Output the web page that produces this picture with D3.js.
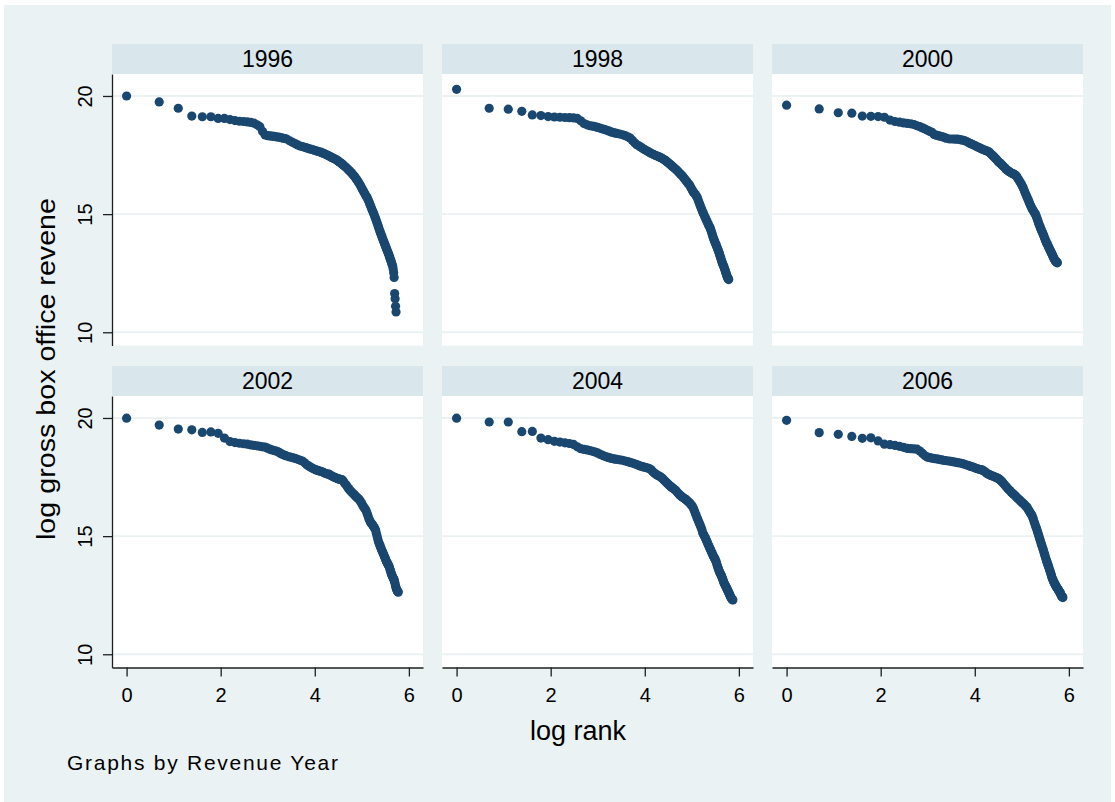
<!DOCTYPE html>
<html>
<head>
<meta charset="utf-8">
<script src="https://cdn.jsdelivr.net/npm/d3@7"></script>
<style>
  body { margin: 0; background: #ffffff; }
  svg { display: block; }
  text { font-family: "Liberation Sans", Arial, Helvetica, sans-serif; fill: #000; }
</style>
</head>
<body>
<svg id="chart" width="1115" height="802"></svg>
<script>
// Panel order (by revenue year)
const years = ["1996", "1998", "2000", "2002", "2004", "2006"];

// Film ranks at which revenue is plotted: 1..30, then every 2nd to 100, then every 3rd
const ranks = d3.range(1, 31).concat(d3.range(32, 101, 2), d3.range(103, 356, 3));

// log gross box office revenue, in the same order as `ranks`
const rev1996 = [20.0, 19.75, 19.48, 19.15, 19.12, 19.12, 19.05, 19.05, 19.0, 18.96, 18.93, 18.92, 18.9, 18.88, 18.85, 18.78, 18.7, 18.5, 18.35, 18.32, 18.31, 18.3, 18.29, 18.27, 18.26, 18.25, 18.23, 18.21, 18.2, 18.18,
  18.1, 18.04, 17.98, 17.93, 17.88, 17.86, 17.83, 17.8, 17.77, 17.75, 17.73, 17.7, 17.68, 17.66, 17.64, 17.62, 17.59, 17.57, 17.54, 17.51, 17.49, 17.46, 17.43, 17.4, 17.38, 17.35, 17.33, 17.31, 17.27, 17.24, 17.21, 17.18, 17.14, 17.11, 17.08,
  17.03, 16.98, 16.92, 16.87, 16.82, 16.76, 16.71, 16.65, 16.6, 16.53, 16.47, 16.4, 16.33, 16.26, 16.19, 16.11, 16.03, 15.96, 15.89, 15.82,
  15.76, 15.7, 15.62, 15.54, 15.45, 15.37, 15.28, 15.2, 15.12, 15.05, 14.97, 14.88, 14.8, 14.72, 14.63, 14.55, 14.47, 14.38, 14.3, 14.22,
  14.15, 14.08, 14.01, 13.94, 13.87, 13.81, 13.74, 13.68, 13.61, 13.55, 13.49, 13.43, 13.37, 13.31, 13.25, 13.18, 13.12, 13.05, 12.99, 12.92,
  12.86, 12.79, 12.68, 12.52, 12.32, 11.64, 11.42, 11.1, 10.86];

const rev1998 = [20.28, 19.48, 19.44, 19.35, 19.2, 19.17, 19.13, 19.11, 19.1, 19.09, 19.08, 19.07, 19.05, 18.95, 18.83, 18.78, 18.74, 18.72, 18.7, 18.67, 18.64, 18.61, 18.59, 18.56, 18.53, 18.5, 18.47, 18.45, 18.43, 18.42,
  18.39, 18.36, 18.32, 18.27, 18.22, 18.12, 18.02, 17.94, 17.89, 17.84, 17.79, 17.74, 17.7, 17.66, 17.62, 17.58, 17.55, 17.52, 17.49, 17.47, 17.45, 17.42, 17.4, 17.37, 17.34, 17.31, 17.28, 17.25, 17.21, 17.17, 17.13, 17.1, 17.06, 17.02, 16.99,
  16.94, 16.89, 16.84, 16.78, 16.72, 16.67, 16.62, 16.56, 16.5, 16.44, 16.38, 16.32, 16.27, 16.22, 16.13, 16.06, 15.99, 15.92, 15.88, 15.83,
  15.77, 15.72, 15.62, 15.52, 15.43, 15.34, 15.26, 15.17, 15.09, 15.03, 14.95, 14.88, 14.81, 14.75, 14.69, 14.62, 14.56, 14.5, 14.45, 14.39,
  14.31, 14.23, 14.14, 14.06, 13.98, 13.91, 13.85, 13.79, 13.73, 13.67, 13.61, 13.55, 13.49, 13.42, 13.36, 13.29, 13.22, 13.15, 13.08, 13.01,
  12.95, 12.89, 12.84, 12.8, 12.74, 12.68, 12.62, 12.56, 12.5, 12.44, 12.38, 12.33, 12.29, 12.26, 12.23];

const rev2000 = [19.61, 19.45, 19.29, 19.27, 19.15, 19.14, 19.13, 19.1, 18.98, 18.92, 18.89, 18.86, 18.84, 18.82, 18.79, 18.74, 18.7, 18.65, 18.6, 18.55, 18.5, 18.46, 18.37, 18.34, 18.32, 18.3, 18.28, 18.26, 18.23, 18.21,
  18.18, 18.18, 18.17, 18.17, 18.15, 18.13, 18.11, 18.07, 18.02, 17.98, 17.95, 17.91, 17.88, 17.84, 17.81, 17.78, 17.75, 17.72, 17.7, 17.68, 17.66, 17.63, 17.58, 17.52, 17.47, 17.43, 17.38, 17.33, 17.28, 17.22, 17.18, 17.15, 17.11, 17.07, 17.03,
  16.97, 16.9, 16.86, 16.82, 16.78, 16.75, 16.72, 16.7, 16.68, 16.65, 16.6, 16.52, 16.45, 16.38, 16.32, 16.24, 16.16, 16.07, 15.98, 15.88,
  15.8, 15.71, 15.63, 15.55, 15.46, 15.38, 15.31, 15.24, 15.18, 15.13, 15.08, 15.03, 14.98, 14.9, 14.82, 14.74, 14.65, 14.57, 14.5, 14.43,
  14.36, 14.3, 14.24, 14.18, 14.12, 14.05, 13.99, 13.92, 13.86, 13.8, 13.75, 13.71, 13.66, 13.61, 13.56, 13.51, 13.47, 13.42, 13.38, 13.33,
  13.29, 13.24, 13.19, 13.15, 13.11, 13.07, 13.04, 13.01, 12.99, 12.97, 12.95, 12.94];

const rev2002 = [19.99, 19.7, 19.53, 19.5, 19.39, 19.41, 19.35, 19.15, 19.0, 18.96, 18.93, 18.91, 18.89, 18.86, 18.84, 18.82, 18.8, 18.78, 18.77, 18.72, 18.68, 18.65, 18.62, 18.6, 18.57, 18.52, 18.48, 18.44, 18.42, 18.39,
  18.35, 18.32, 18.29, 18.25, 18.21, 18.18, 18.1, 18.02, 17.97, 17.92, 17.87, 17.84, 17.8, 17.78, 17.76, 17.74, 17.72, 17.69, 17.66, 17.64, 17.62, 17.62, 17.58, 17.55, 17.52, 17.5, 17.48, 17.46, 17.44, 17.42, 17.41, 17.4, 17.39, 17.38, 17.33,
  17.24, 17.17, 17.09, 17.01, 16.95, 16.89, 16.84, 16.79, 16.74, 16.7, 16.65, 16.61, 16.57, 16.52, 16.45, 16.38, 16.31, 16.24, 16.18, 16.14,
  16.06, 15.96, 15.86, 15.76, 15.67, 15.6, 15.55, 15.51, 15.47, 15.42, 15.36, 15.31, 15.25, 15.12, 15.0, 14.89, 14.78, 14.7, 14.63, 14.56,
  14.49, 14.42, 14.36, 14.3, 14.24, 14.18, 14.12, 14.06, 14.0, 13.94, 13.89, 13.84, 13.8, 13.76, 13.71, 13.64, 13.57, 13.5, 13.43, 13.37,
  13.32, 13.27, 13.23, 13.19, 13.15, 13.07, 12.98, 12.89, 12.82, 12.76, 12.71, 12.68, 12.65, 12.63];

const rev2004 = [19.99, 19.83, 19.83, 19.42, 19.43, 19.15, 19.08, 19.01, 18.98, 18.95, 18.92, 18.88, 18.78, 18.7, 18.67, 18.65, 18.62, 18.59, 18.56, 18.52, 18.47, 18.43, 18.39, 18.36, 18.33, 18.31, 18.29, 18.27, 18.26, 18.25,
  18.23, 18.21, 18.18, 18.15, 18.12, 18.09, 18.06, 18.03, 17.99, 17.96, 17.94, 17.92, 17.9, 17.88, 17.86, 17.82, 17.76, 17.69, 17.64, 17.6, 17.57, 17.54, 17.51, 17.47, 17.43, 17.38, 17.33, 17.28, 17.24, 17.19, 17.15, 17.11, 17.08, 17.05, 17.02,
  16.97, 16.92, 16.86, 16.79, 16.74, 16.7, 16.66, 16.62, 16.59, 16.56, 16.52, 16.48, 16.44, 16.4, 16.35, 16.3, 16.24, 16.16, 16.06, 15.96,
  15.87, 15.77, 15.69, 15.6, 15.52, 15.44, 15.35, 15.27, 15.14, 15.08, 15.02, 14.96, 14.9, 14.83, 14.76, 14.69, 14.62, 14.56, 14.5, 14.44,
  14.38, 14.32, 14.26, 14.2, 14.15, 14.1, 14.05, 14.01, 13.95, 13.88, 13.8, 13.72, 13.65, 13.59, 13.53, 13.47, 13.43, 13.39, 13.34, 13.29,
  13.24, 13.18, 13.12, 13.06, 13.01, 12.97, 12.93, 12.89, 12.85, 12.81, 12.77, 12.73, 12.69, 12.65, 12.61, 12.57, 12.53, 12.49, 12.45, 12.41,
  12.38, 12.35, 12.33, 12.31, 12.3];

const rev2006 = [19.9, 19.38, 19.31, 19.22, 19.14, 19.16, 19.03, 18.89, 18.87, 18.84, 18.8, 18.76, 18.71, 18.7, 18.69, 18.68, 18.6, 18.5, 18.4, 18.34, 18.32, 18.3, 18.28, 18.27, 18.26, 18.24, 18.23, 18.21, 18.2, 18.19,
  18.17, 18.15, 18.13, 18.11, 18.09, 18.07, 18.04, 18.01, 17.98, 17.95, 17.93, 17.9, 17.87, 17.85, 17.83, 17.81, 17.8, 17.76, 17.72, 17.67, 17.63, 17.61, 17.58, 17.56, 17.54, 17.52, 17.5, 17.48, 17.46, 17.44, 17.41, 17.37, 17.33, 17.29, 17.24,
  17.17, 17.1, 17.04, 16.98, 16.93, 16.87, 16.82, 16.78, 16.74, 16.69, 16.65, 16.6, 16.56, 16.52, 16.48, 16.44, 16.4, 16.37, 16.33, 16.29,
  16.25, 16.21, 16.15, 16.09, 16.03, 15.98, 15.93, 15.87, 15.79, 15.7, 15.6, 15.51, 15.42, 15.34, 15.26, 15.16, 15.07, 14.98, 14.89, 14.8,
  14.71, 14.63, 14.55, 14.47, 14.39, 14.3, 14.22, 14.14, 14.06, 13.98, 13.91, 13.84, 13.77, 13.71, 13.64, 13.57, 13.5, 13.43, 13.36, 13.29,
  13.22, 13.17, 13.12, 13.07, 13.03, 12.99, 12.95, 12.91, 12.88, 12.85, 12.82, 12.79, 12.76, 12.73, 12.7, 12.67, 12.64, 12.61, 12.57, 12.53,
  12.5, 12.46, 12.44, 12.42, 12.4];

const revenue = [rev1996, rev1998, rev2000, rev2002, rev2004, rev2006];

const yTicks = [10, 15, 20];
const xTicks = [0, 2, 4, 6];

// ---- layout ----
const W = 1115, H = 802;
const colLeft = [112, 442, 772];
const panelW = 311;
const stripTop = [44, 366];
const stripH = 30;
const plotH = 271.5;

const C = {
  bg: "#EAF2F3",
  strip: "#D9E6EB",
  grid: "#EAF2F3",
  marker: "#1A476F",
  axis: "#1f1f1f"
};

const svg = d3.select("#chart");

svg.append("rect")
  .attr("x", 4).attr("y", 5)
  .attr("width", W - 8).attr("height", H - 5)
  .attr("fill", C.bg);

const x = d3.scaleLinear().domain([-0.31, 6.30]).range([0, panelW]);
const y = d3.scaleLinear().domain([9.44, 20.93]).range([plotH, 0]);
const fmt = d3.format("d");

years.forEach((yr, i) => {
  const row = Math.floor(i / 3), col = i % 3;
  const left = colLeft[col];
  const sTop = stripTop[row];
  const pTop = sTop + stripH;

  // strip header
  svg.append("rect")
    .attr("x", left).attr("y", sTop)
    .attr("width", panelW).attr("height", stripH)
    .attr("fill", C.strip);
  svg.append("text")
    .attr("x", left + panelW / 2).attr("y", sTop + 22.7)
    .attr("text-anchor", "middle")
    .attr("font-size", 23)
    .text(yr);

  const g = svg.append("g").attr("transform", `translate(${left},${pTop})`);

  // plot region
  g.append("rect")
    .attr("width", panelW).attr("height", plotH)
    .attr("fill", "#ffffff");

  // horizontal grid lines
  g.selectAll("line.grid").data(yTicks).join("line")
    .attr("class", "grid")
    .attr("x1", 0).attr("x2", panelW)
    .attr("y1", d => y(d)).attr("y2", d => y(d))
    .attr("stroke", C.grid).attr("stroke-width", 1.8);

  // points: log revenue against log rank
  const vals = revenue[i];
  const pts = vals.map((v, k) => ({ lr: Math.log(ranks[k]), v }));
  g.selectAll("circle").data(pts).join("circle")
    .attr("cx", d => x(d.lr))
    .attr("cy", d => y(d.v))
    .attr("r", 4.6)
    .attr("fill", C.marker);

  // left axis on first column
  if (col === 0) {
    const ay = g.append("g")
      .call(d3.axisLeft(y).tickValues(yTicks).tickFormat(fmt).tickSize(9).tickSizeOuter(0));
    ay.select(".domain").attr("stroke", C.axis).attr("stroke-width", 1.3);
    ay.selectAll(".tick line").attr("stroke", C.axis).attr("stroke-width", 1.3);
    ay.selectAll(".tick text")
      .attr("transform", "rotate(-90)")
      .attr("x", 0).attr("y", -20.5).attr("dy", null)
      .attr("text-anchor", "middle")
      .attr("font-size", 20)
      .attr("font-family", null)
      .attr("fill", "#000");
  }

  // bottom axis on second row
  if (row === 1) {
    const ax = g.append("g")
      .attr("transform", `translate(0,${plotH})`)
      .call(d3.axisBottom(x).tickValues(xTicks).tickFormat(fmt).tickSize(9).tickSizeOuter(0));
    ax.select(".domain").attr("stroke", C.axis).attr("stroke-width", 1.3);
    ax.selectAll(".tick line").attr("stroke", C.axis).attr("stroke-width", 1.3);
    ax.selectAll(".tick text")
      .attr("y", 34).attr("dy", null)
      .attr("font-size", 20)
      .attr("font-family", null)
      .attr("fill", "#000");
  }
});

// axis titles
svg.append("text")
  .attr("transform", "translate(55,369) rotate(-90)")
  .attr("text-anchor", "middle")
  .attr("font-size", 26)
  .attr("textLength", 342)
  .attr("lengthAdjust", "spacingAndGlyphs")
  .text("log gross box office revene");

svg.append("text")
  .attr("x", 578).attr("y", 740)
  .attr("text-anchor", "middle")
  .attr("font-size", 27)
  .text("log rank");

svg.append("text")
  .attr("x", 67).attr("y", 769.5)
  .attr("font-size", 21)
  .attr("textLength", 271)
  .attr("lengthAdjust", "spacing")
  .text("Graphs by Revenue Year");
</script>
</body>
</html>
